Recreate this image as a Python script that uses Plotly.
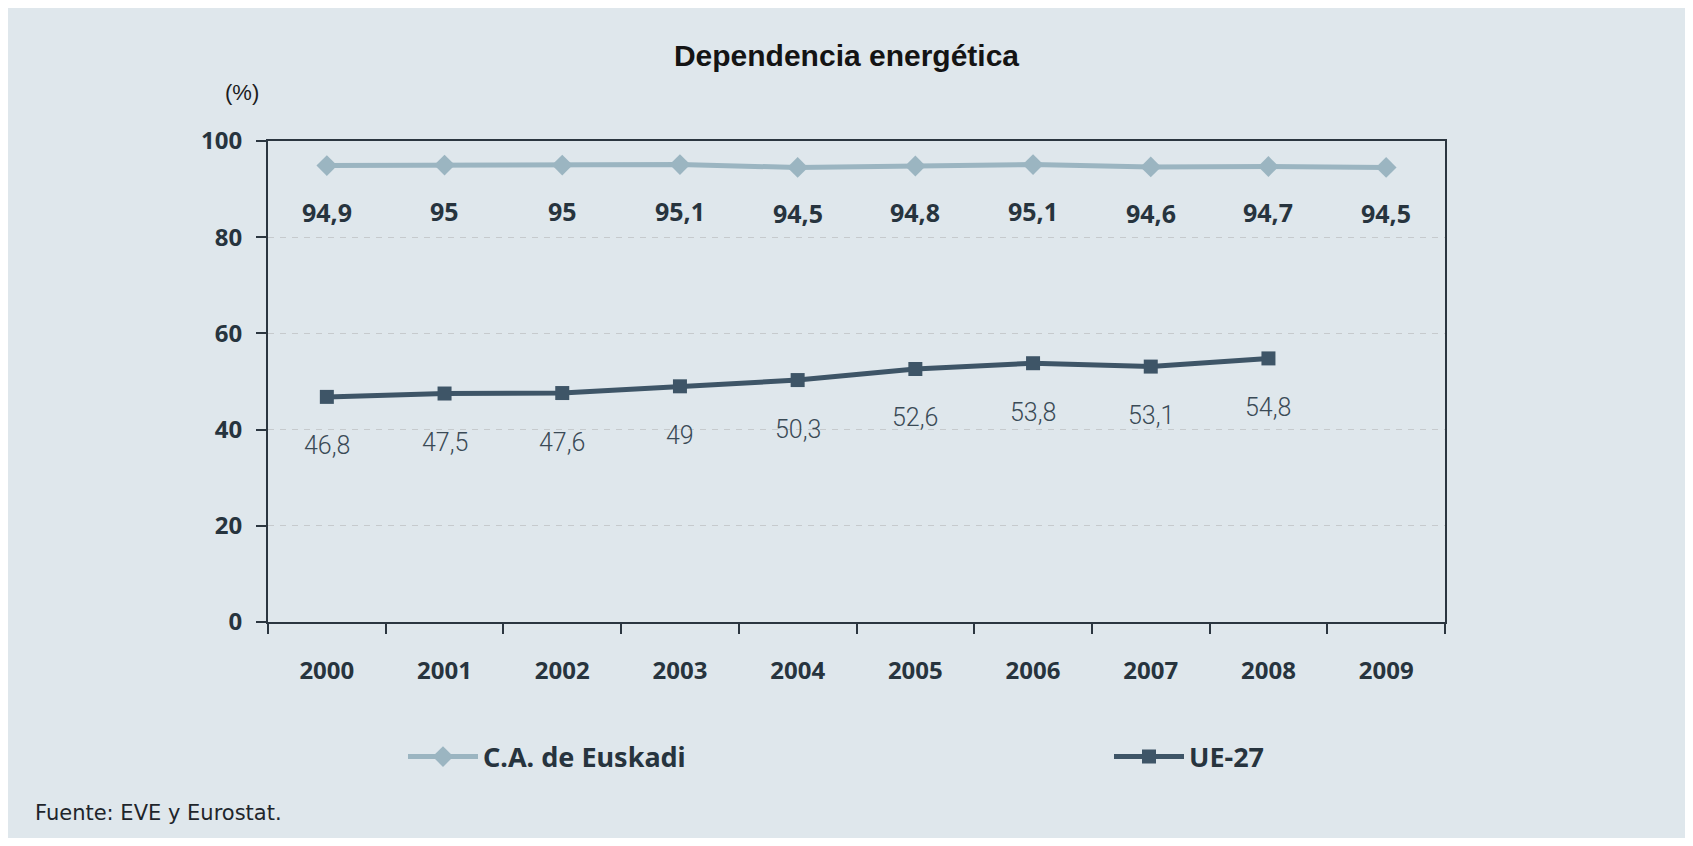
import plotly.graph_objects as go

# Data
years = ['2000', '2001', '2002', '2003', '2004', '2005', '2006', '2007', '2008', '2009']
euskadi = [94.9, 95, 95, 95.1, 94.5, 94.8, 95.1, 94.6, 94.7, 94.5]
ue27 = [46.8, 47.5, 47.6, 49, 50.3, 52.6, 53.8, 53.1, 54.8, None]

y_ticks = [0, 20, 40, 60, 80, 100]

BG = '#dfe7ec'
DARK = '#3e5567'
LIGHT = '#9bb5c1'
AXIS = '#2b3640'
TEXT = '#27343e'
FONT = 'Noto Sans'


def fmt(v):
    # spanish decimal comma
    return f'{v:g}'.replace('.', ',')


fig = go.Figure()

fig.add_trace(go.Scatter(x=years, y=euskadi, name='C.A. de Euskadi',
    mode='lines+markers', legendwidth=621,
    line=dict(color=LIGHT, width=5),
    marker=dict(symbol='diamond', size=16, color=LIGHT)))

fig.add_trace(go.Scatter(x=years, y=ue27, name='UE-27',
    mode='lines+markers', legendwidth=110,
    line=dict(color=DARK, width=5),
    marker=dict(symbol='square', size=14, color=DARK)))

annotations = []

# Data labels below the points (x as category index)
for i, v in enumerate(euskadi):
    annotations.append(dict(x=i, y=v, text=fmt(v), showarrow=False,
        yshift=-46, font=dict(family=FONT, size=25, color=TEXT, weight='bold')))

for i, v in enumerate(ue27):
    if v is None:
        continue
    annotations.append(dict(x=i, y=v, text=fmt(v), showarrow=False,
        yshift=-49, font=dict(family='Roboto', size=25, color='#3a4a56', weight=300)))

annotations.append(dict(xref='paper', yref='paper', x=-0.0225, y=1.1008,
    xanchor='center', yanchor='middle', text='(%)', showarrow=False,
    font=dict(family='Liberation Sans', size=22, color='#1c1c1c')))

annotations.append(dict(xref='paper', yref='paper', x=-0.1997, y=-0.397,
    xanchor='left', yanchor='middle', text='Fuente: EVE y Eurostat.',
    showarrow=False,
    font=dict(family='DejaVu Sans', size=21, color='#1e252b')))

fig.update_layout(
    width=1677, height=830,
    margin=dict(l=260, r=240, t=133, b=216),
    paper_bgcolor=BG, plot_bgcolor=BG,
    title=dict(text='Dependencia energética', xref='container', x=0.5,
               y=1 - 47 / 830, xanchor='center', yanchor='middle',
               font=dict(family='Liberation Sans', size=30, color='#141414',
                         weight='bold')),
    showlegend=True,
    legend=dict(orientation='h', x=0.1147, y=-0.2807, xanchor='left',
                yanchor='middle', bgcolor='rgba(0,0,0,0)', itemwidth=70,
                font=dict(family=FONT, size=27, color=TEXT, weight='bold')),
    annotations=annotations,
)

fig.update_xaxes(type='category', categoryorder='array', categoryarray=years,
    range=[-0.5, len(years) - 0.5],
    showline=True, linecolor=AXIS, linewidth=2, mirror=True,
    ticks='outside', tickson='boundaries', ticklen=10, tickwidth=2,
    tickcolor=AXIS, showgrid=False, ticklabelstandoff=26,
    tickfont=dict(family=FONT, size=24, color=TEXT, weight='bold'))

fig.update_yaxes(range=[0, 100], tickvals=y_ticks,
    showline=True, linecolor=AXIS, linewidth=2, mirror=True,
    ticks='outside', ticklen=10, tickwidth=2, tickcolor=AXIS,
    showgrid=True, gridcolor='#c6cacd', griddash='6px,6px', gridwidth=1,
    zeroline=False, ticklabelstandoff=9,
    tickfont=dict(family=FONT, size=24, color=TEXT, weight='bold'))

fig.write_html('out.html')
